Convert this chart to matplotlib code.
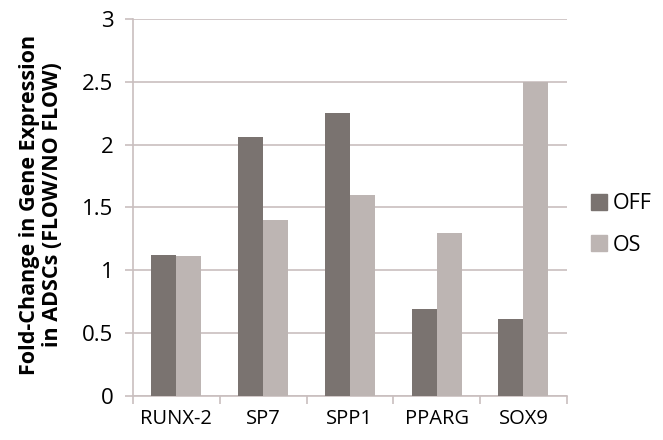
import matplotlib.pyplot as plt
import numpy as np
from matplotlib.patches import Patch

# Du lieu
genes = ['RUNX-2', 'SP7', 'SPP1', 'PPARG', 'SOX9']
off_vals = [1.12, 2.06, 2.25, 0.69, 0.61]
os_vals = [1.11, 1.40, 1.60, 1.30, 2.50]
y_ticks = [0, 0.5, 1, 1.5, 2, 2.5, 3]

mau_off = "#7a7370"
mau_os = "#bdb5b3"
mau_luoi = "#c9bfbf"

plt.rcParams['font.family'] = ['Open Sans', 'DejaVu Sans']

fig = plt.figure(figsize=(6.63, 4.40), dpi=100)
ax = fig.add_axes([0.2006, 0.1, 0.6544, 0.857])

x = np.arange(len(genes))
w = 0.288
ax.bar(x - w / 2, off_vals, w, color=mau_off, zorder=3)
ax.bar(x + w / 2, os_vals, w, color=mau_os, zorder=3)

ax.set_xlim(-0.5, len(genes) - 0.5)
ax.set_ylim(0, 3)
ax.set_yticks(y_ticks)
ax.set_yticklabels([f"{v:g}" for v in y_ticks], fontsize=16)
ax.grid(axis='y', color=mau_luoi, linewidth=1.2, zorder=0)

ax.set_xticks(x)
ax.set_xticklabels(genes, fontsize=14.5)
ax.set_xticks(np.arange(len(genes) + 1) - 0.5, minor=True)
ax.tick_params(axis='x', which='major', length=0, pad=9)
ax.tick_params(axis='x', which='minor', length=6, color=mau_luoi, width=1.2)
ax.tick_params(axis='y', length=6, color=mau_luoi, width=1.2, pad=8)

for s in ['top', 'right']:
    ax.spines[s].set_visible(False)
ax.spines['left'].set_color(mau_luoi)
ax.spines['bottom'].set_color(mau_luoi)
ax.spines['left'].set_linewidth(1.2)
ax.spines['bottom'].set_linewidth(1.2)

fig.text(0.062, 0.535, "Fold-Change in Gene Expression\nin ADSCs (FLOW/NO FLOW)",
         rotation=90, ha='center', va='center', fontsize=15.5,
         fontweight='bold', linespacing=1.1)

handles = [Patch(color=mau_off, label='OFF'), Patch(color=mau_os, label='OS')]
fig.legend(handles=handles, loc='center left', bbox_to_anchor=(0.868, 0.49),
           frameon=False, fontsize=15.5, handlelength=0.75, handleheight=0.75,
           handletextpad=0.3, labelspacing=0.95, borderpad=0.2)

fig.savefig("out.png", dpi=100)
